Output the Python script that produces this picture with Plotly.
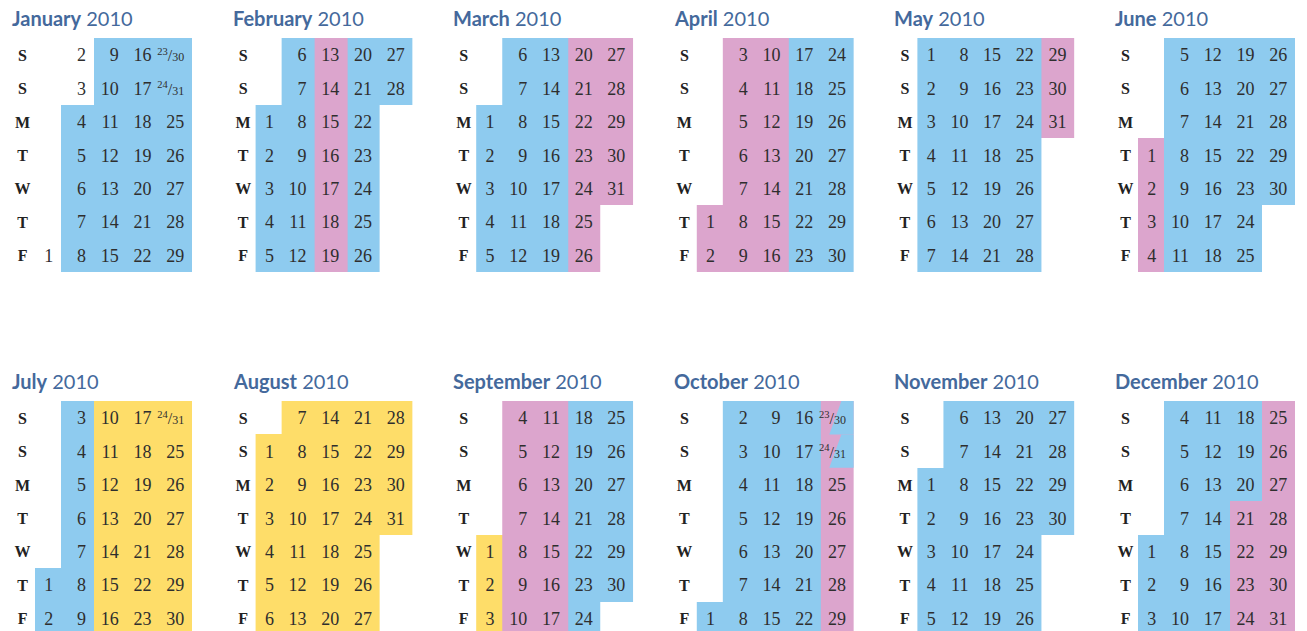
import datetime as dt
import calendar
import plotly.graph_objects as go

YEAR = 2010
month_names = ["January", "February", "March", "April", "May", "June",
               "July", "August", "September", "October", "November", "December"]
day_labels = ["S", "S", "M", "T", "W", "T", "F"]   # week starts on Saturday

# coloured periods (inclusive date ranges)
blue_periods = [("2010-01-04", "2010-02-12"), ("2010-02-20", "2010-03-19"),
                ("2010-04-17", "2010-05-28"), ("2010-06-05", "2010-07-09"),
                ("2010-09-18", "2010-10-22"), ("2010-10-30", "2010-12-20")]
pink_periods = [("2010-02-13", "2010-02-19"), ("2010-03-20", "2010-04-16"),
                ("2010-05-29", "2010-06-04"), ("2010-09-04", "2010-09-17"),
                ("2010-10-23", "2010-10-29"), ("2010-12-21", "2010-12-31")]
yellow_periods = [("2010-07-10", "2010-09-03")]

period_sets = {"blue": blue_periods, "pink": pink_periods, "yellow": yellow_periods}
cat_code = {"blue": 1, "pink": 2, "yellow": 3}
cat_color = {"blue": "#8ecbef", "pink": "#dca5cd", "yellow": "#fedd69"}

TITLE_COLOR = "#44699c"
TEXT_COLOR = "#2e2e2e"

col_edges = [0, 0.8, 1.8, 2.8, 3.8, 4.8]

W, H = 1307, 631
PX_PER_UNIT = 157 / 4.8
ROW_PX = 234 / 7
TEXT_DY = 0.06


def parse(s):
    return dt.date.fromisoformat(s)


def category(d):
    for name, periods in period_sets.items():
        for a, b in periods:
            if parse(a) <= d <= parse(b):
                return name
    return None


def row_of(d):
    return (d.weekday() + 2) % 7


fig = go.Figure()

for i, mname in enumerate(month_names):
    m = i + 1
    gr, gc = divmod(i, 6)
    left_px = 10 + 220.6 * gc
    ax = "" if i == 0 else str(i + 1)
    xa, ya = "x" + ax, "y" + ax

    ndays = calendar.monthrange(YEAR, m)[1]
    first_r = row_of(dt.date(YEAR, m, 1))
    cells = {}
    for day in range(1, ndays + 1):
        d = dt.date(YEAR, m, day)
        r = row_of(d)
        c = (day - 1 + first_r) // 7
        if c >= 5:
            c = 4
        cells.setdefault((r, c), []).append(d)

    z = [[None] * 5 for _ in range(7)]
    tx, ty, tt = [], [], []
    for (r, c), days in cells.items():
        cat = category(days[0])
        if cat:
            z[r][c] = cat_code[cat]
        if len(days) == 1:
            label = str(days[0].day)
        else:
            label = ("<span style='font-size:15px'><sup>%d</sup></span>"
                     "<span style='font-size:16px'>/</span>"
                     "<span style='font-size:12px'>%d</span>"
                     % (days[0].day, days[1].day))
        tx.append(col_edges[c + 1] - 0.24)
        ty.append(r + TEXT_DY)
        tt.append(label)

    fig.add_trace(go.Heatmap(
        z=z, x=col_edges, y=list(range(7)), xaxis=xa, yaxis=ya,
        colorscale=[[0, cat_color["blue"]], [1 / 3, cat_color["blue"]],
                    [1 / 3, cat_color["pink"]], [2 / 3, cat_color["pink"]],
                    [2 / 3, cat_color["yellow"]], [1, cat_color["yellow"]]],
        zmin=0.5, zmax=3.5, showscale=False, hoverinfo="skip"))

    # split cells whose two dates have different colours
    for (r, c), days in cells.items():
        if len(days) == 2:
            c1, c2 = category(days[0]), category(days[1])
            if c2 and c2 != c1:
                x0, x1 = col_edges[c], col_edges[c + 1]
                w = x1 - x0
                fig.add_trace(go.Scatter(
                    x=[x0 + 0.62 * w, x1, x1, x0 + 0.25 * w, x0 + 0.62 * w],
                    y=[r - 0.5, r - 0.5, r + 0.5, r + 0.5, r - 0.5],
                    fill="toself", fillcolor=cat_color[c2], mode="lines",
                    line=dict(width=0, color=cat_color[c2]),
                    xaxis=xa, yaxis=ya, hoverinfo="skip", showlegend=False))

    fig.add_trace(go.Scatter(
        x=tx, y=ty, text=tt, mode="text", textposition="middle left",
        textfont=dict(family="Liberation Serif", size=18, color=TEXT_COLOR),
        cliponaxis=False,
        xaxis=xa, yaxis=ya, hoverinfo="skip", showlegend=False))

    fig.add_trace(go.Scatter(
        x=[-0.38] * 7, y=[k + TEXT_DY for k in range(7)], text=day_labels,
        mode="text", textposition="middle center", cliponaxis=False,
        textfont=dict(family="Liberation Serif", size=16, color="#222222",
                      weight="bold"),
        xaxis=xa, yaxis=ya, hoverinfo="skip", showlegend=False))

    # axis geometry
    x_left = -25 / PX_PER_UNIT
    xdom = [left_px / W, (left_px + 182) / W]
    if gr == 0:
        top_px, bot_px = 38, 272
        yr = [6.5, -0.5]
    else:
        top_px, bot_px = 401, 631
        yr = [-0.5 + (bot_px - top_px) / ROW_PX, -0.5]
    ydom = [1 - bot_px / H, 1 - top_px / H]
    fig.update_layout(**{
        "xaxis" + ax: dict(domain=xdom, range=[x_left, 4.8], visible=False,
                           fixedrange=True, anchor=ya),
        "yaxis" + ax: dict(domain=ydom, range=yr, visible=False,
                           fixedrange=True, anchor=xa),
    })

    fig.add_annotation(
        x=left_px / W, y=1 - (top_px - 20) / H, xref="paper", yref="paper",
        xanchor="left", yanchor="middle", showarrow=False,
        text="<b>%s</b> %d" % (mname, YEAR),
        font=dict(family="Lato", size=20, color=TITLE_COLOR))

fig.update_layout(
    width=W, height=H, margin=dict(l=0, r=0, t=0, b=0),
    paper_bgcolor="white", plot_bgcolor="rgba(0,0,0,0)", showlegend=False)

fig.write_html("out.html", config={"displayModeBar": False},
               post_script="document.body.style.margin='0';"
                           "document.body.style.overflow='hidden';")
